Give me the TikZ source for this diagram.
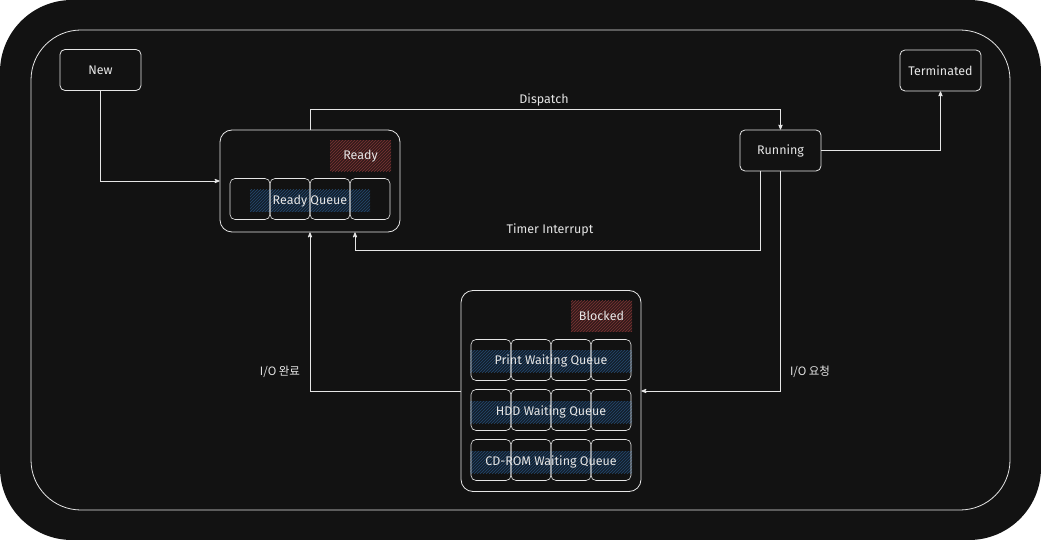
\documentclass[tikz,border=0pt]{standalone}
\usepackage{fontspec}
\setmainfont{Fira Sans}
\newfontfamily\kofont{Noto Sans CJK KR}
\usetikzlibrary{arrows,patterns,calc,positioning}
\definecolor{bgdark}{HTML}{121212}
\definecolor{inkwhite}{HTML}{E6E6E6}
\definecolor{tagred}{HTML}{331A1A}
\definecolor{hatchred}{HTML}{7A3434}
\definecolor{tagblue}{HTML}{131F2C}
\definecolor{hatchblue}{HTML}{26496E}
\tikzset{
  state/.style={draw=inkwhite,rounded corners=5pt,line width=0.8pt,minimum width=81pt,minimum height=41pt,inner sep=1pt,text=inkwhite,font=\fontsize{12.5}{14}\selectfont},
  group/.style={draw=inkwhite,rounded corners=12pt,line width=0.8pt},
  cell/.style={draw=inkwhite,rounded corners=5pt,line width=0.6pt,minimum width=40pt,minimum height=41pt},
  redtag/.style={fill=tagred,postaction={pattern=north east lines,pattern color=hatchred},minimum width=61pt,minimum height=31pt,inner sep=1pt,text=inkwhite,font=\fontsize{12.5}{14}\selectfont},
  bluetag/.style={fill=tagblue,postaction={pattern=north east lines,pattern color=hatchblue},minimum height=22pt,inner sep=0pt,text=inkwhite,font=\fontsize{12.5}{14}\selectfont},
  wire/.style={draw=inkwhite,line width=0.8pt,->,>=stealth'},
  lbl/.style={text=inkwhite,font=\fontsize{12.5}{14}\selectfont}
}
\begin{document}
\begin{tikzpicture}[x=1pt,y=-1pt]
\useasboundingbox (0,0) rectangle (1041,540);
\fill[white] (0,0) rectangle (1041,540); % page
\fill[bgdark,rounded corners=72pt] (0,0) rectangle (1041,540); % dark card
\draw[inkwhite,line width=0.8pt,rounded corners=50pt] (31,30) rectangle (1010,510); % frame
\node[state] (new) at (100.5,70) {New}; % New state
\node[state] (term) at (940.5,70.5) {Terminated}; % Terminated state
\node[state] (running) at (780.5,150.5) {Running}; % Running state
\node[group,minimum width=180pt,minimum height=102pt] (ready) at (310,181) {}; % Ready state
\node[redtag] (readytag) at (360.5,156) {Ready}; % Ready tag
\node[bluetag,minimum width=120pt] (readyq) at (310,201) {Ready Queue}; % Ready queue label
\foreach \i in {0,...,3} \node[cell] (rq\i) at (250+40*\i,199) {}; % Ready queue cells
\node[group,minimum width=180pt,minimum height=201pt] (blocked) at (551,391) {}; % Blocked state
\node[redtag] (blockedtag) at (601.5,316) {Blocked}; % Blocked tag
\node[bluetag,minimum width=162pt] (printq) at (551,361) {Print Waiting Queue}; % Print queue label
\node[bluetag,minimum width=162pt] (hddq) at (551,412) {HDD Waiting Queue}; % HDD queue label
\node[bluetag,minimum width=162pt] (cdq) at (551,462) {CD-ROM Waiting Queue}; % CD-ROM queue label
\foreach \r/\y in {print/360,hdd/410,cdrom/460}
  \foreach \i in {0,...,3} \node[cell] (\r\i) at (491+40*\i,\y) {}; % Waiting queue cells
\coordinate (timerout) at ($(running.south)+(-20,0)$); % Timer start
\coordinate (timerin) at ($(ready.south)+(45,0)$); % Timer end
\draw[wire] (new.south) |- (ready.west); % Admit
\draw[wire] (ready.north) -- ++(0,-20) -| (running.north); % Dispatch
\draw[wire] (running.east) -| (term.south); % Exit
\draw[wire] (timerout) |- ($(timerin)+(0,18)$) -- (timerin); % Timer interrupt
\draw[wire] (running.south) |- (blocked.east); % I/O request
\draw[wire] (blocked.west) -| (ready.south); % I/O done
\node[lbl] (dispatchlbl) at (544,100) {Dispatch}; % Dispatch label
\node[lbl] (timerlbl) at (550,230) {Timer Interrupt}; % Timer label
\node[lbl,font=\kofont\fontsize{11.5}{14}\selectfont] (donelbl) at (280,372) {I/O 완료}; % I/O done label
\node[lbl,font=\kofont\fontsize{11.5}{14}\selectfont] (reqlbl) at (810,372) {I/O 요청}; % I/O request label
\end{tikzpicture}
\end{document}
